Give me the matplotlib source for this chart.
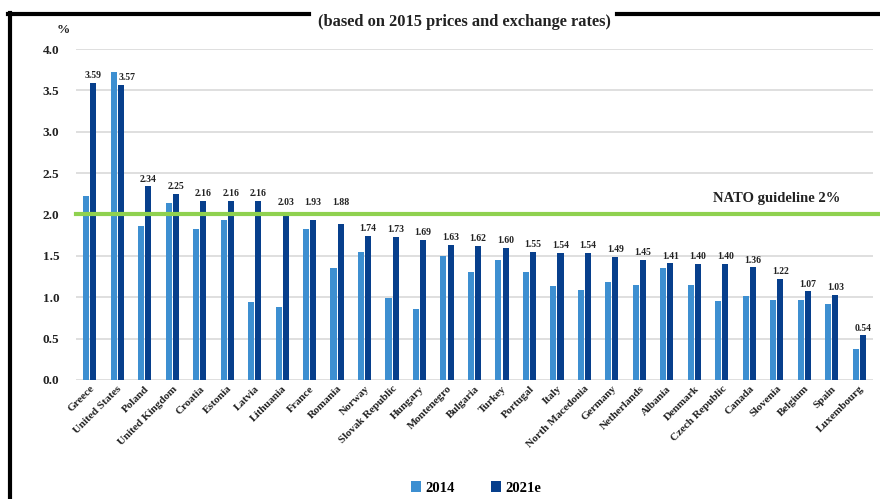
import numpy as np
import matplotlib
matplotlib.use("Agg")
import matplotlib.pyplot as plt
from matplotlib.lines import Line2D

countries = ["Greece", "United States", "Poland", "United Kingdom", "Croatia", "Estonia",
             "Latvia", "Lithuania", "France", "Romania", "Norway", "Slovak Republic",
             "Hungary", "Montenegro", "Bulgaria", "Turkey", "Portugal", "Italy",
             "North Macedonia", "Germany", "Netherlands", "Albania", "Denmark",
             "Czech Republic", "Canada", "Slovenia", "Belgium", "Spain", "Luxembourg"]
vals_2014 = [2.22, 3.72, 1.86, 2.14, 1.82, 1.93, 0.94, 0.88, 1.82, 1.35, 1.55, 0.99,
             0.86, 1.50, 1.31, 1.45, 1.31, 1.14, 1.09, 1.19, 1.15, 1.35, 1.15,
             0.95, 1.01, 0.97, 0.97, 0.92, 0.37]
vals_2021 = [3.59, 3.57, 2.34, 2.25, 2.16, 2.16, 2.16, 2.03, 1.93, 1.88, 1.74, 1.73,
             1.69, 1.63, 1.62, 1.60, 1.55, 1.54, 1.54, 1.49, 1.45, 1.41, 1.40,
             1.40, 1.36, 1.22, 1.07, 1.03, 0.54]
yticks = [0.0, 0.5, 1.0, 1.5, 2.0, 2.5, 3.0, 3.5, 4.0]
guideline = 2.0

plt.rcParams["font.family"] = ["Liberation Serif", "DejaVu Serif"]
plt.rcParams["font.weight"] = "bold"

light = "#3d8fd1"
dark = "#073f8c"
green = "#8fd14f"
txt = "#222222"

fig = plt.figure(figsize=(8.8, 4.99), dpi=100)
ax = fig.add_axes([0.0864, 0.2385, 0.9056, 0.6633])

x = np.arange(len(countries))
w = 0.22
ax.bar(x - 0.13, vals_2014, w, color=light, label="2014", zorder=2)
ax.bar(x + 0.13, vals_2021, w, color=dark, label="2021e", zorder=2)

for xi, a, b in zip(x, vals_2014, vals_2021):
    if a > b:
        # label sits to the right when the 2014 bar is taller
        ax.annotate(f"{b:.2f}", (xi + 0.03, b), xytext=(0, 2), textcoords="offset points",
                    ha="left", va="bottom", fontsize=7, fontweight="bold", color=txt)
    else:
        yb = max(b, guideline + 0.06) if b > 1.85 else b
        ax.annotate(f"{b:.2f}", (xi + 0.13, yb), xytext=(0, 2), textcoords="offset points",
                    ha="center", va="bottom", fontsize=7, fontweight="bold", color=txt)

ax.axhline(guideline, xmin=0, xmax=1.01, color=green, lw=3, clip_on=False, zorder=3)
ax.text(27.3, guideline + 0.19, "NATO guideline 2%", ha="right", va="center",
        fontsize=10.5, fontweight="bold", color=txt)

ax.set_xlim(-0.5, len(countries) - 0.5)
ax.set_ylim(0, 4.0)
ax.set_yticks(yticks)
ax.set_yticklabels([f"{t:.1f}" for t in yticks], fontsize=9.5, fontweight="bold", color=txt)
ax.set_xticks(x)
ax.set_xticklabels(countries, rotation=45, ha="right", rotation_mode="anchor",
                   fontsize=8, color=txt)
ax.tick_params(axis="both", length=0)
ax.tick_params(axis="y", pad=12)
ax.tick_params(axis="x", pad=3)
ax.grid(axis="y", color="#d9d9d9", lw=1.2, zorder=0)
ax.set_axisbelow(True)
for s in ax.spines.values():
    s.set_visible(False)

fig.text(0.072, 0.94, "%", fontsize=9.5, fontweight="bold", color=txt, ha="center", va="center")
fig.text(0.528, 0.956, "(based on 2015 prices and exchange rates)", fontsize=11.8,
         fontweight="bold", color=txt, ha="center", va="center")

fig.legend(loc="center", bbox_to_anchor=(0.541, 0.022), ncol=2, frameon=False,
           handlelength=0.7, handleheight=0.7, handletextpad=0.3, columnspacing=2.5,
           prop={"size": 10.5, "weight": "bold"})

# black frame pieces
ytop = 1 - 14 / 499
fig.add_artist(Line2D([8 / 880, 309 / 880], [ytop, ytop], color="black", lw=3, transform=fig.transFigure))
fig.add_artist(Line2D([617 / 880, 1.0], [ytop, ytop], color="black", lw=3, transform=fig.transFigure))
fig.add_artist(Line2D([10 / 880, 10 / 880], [0, ytop + 0.003], color="black", lw=3, transform=fig.transFigure))

fig.savefig("out.png", dpi=100)
